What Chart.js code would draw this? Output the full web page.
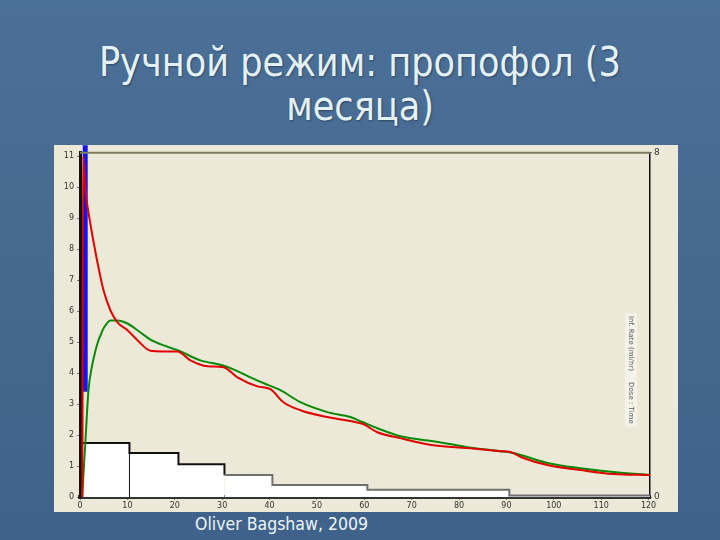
<!DOCTYPE html>
<html>
<head>
<meta charset="utf-8">
<script src="https://cdn.jsdelivr.net/npm/chart.js@4.4.1/dist/chart.umd.min.js"></script>
<style>
  html, body { margin:0; padding:0; }
  body { width:720px; height:540px; position:relative; overflow:hidden;
    background: linear-gradient(180deg, #4b7098 0%, #46698f 45%, #3f628a 100%); }
  .t { position:absolute; left:0; width:720px; text-align:center; white-space:nowrap;
       color:#e4f2f8; font-family:"DejaVu Sans", sans-serif; text-shadow:1px 1px 2px rgba(0,0,0,0.35); }
  .t span { display:inline-block; transform-origin:50% 50%; }
  #panel { position:absolute; left:54px; top:145px; width:624px; height:367px; background:#ece9d8; }
  #foot { position:absolute; left:195px; top:514px; color:#eef6fa; font-family:"DejaVu Sans", sans-serif;
          font-size:17px; white-space:nowrap; transform-origin:0 50%; }
</style>
</head>
<body>
<div class="t" id="t1" style="top:38px;font-size:40px;line-height:48px;"><span>Ручной режим: пропофол (3</span></div>
<div class="t" id="t2" style="top:82px;font-size:40px;line-height:48px;"><span>месяца)</span></div>
<div id="panel"><canvas id="c" width="624" height="367"></canvas></div>
<div id="foot">Oliver Bagshaw, 2009</div>
<script>
// ---- data (minutes, concentration) ----
const plasmaT = [0.5, 0.65, 1.16, 2.22, 2.85, 3.90, 4.96, 6.43, 7.91, 10.02, 12.13, 14.87, 17.5, 20.57, 23.31, 26.90, 30.27, 33.23, 37.45, 40.19, 42.93, 46.52, 52.22, 57.07, 59.81, 62.76, 67.62, 74.58, 81.75, 88.71, 90.82, 93.57, 98.63, 105.6, 112.6, 120.3];
const plasmaV = [0, 11.0, 9.89, 8.79, 8.24, 7.41, 6.67, 6.02, 5.64, 5.38, 5.06, 4.72, 4.70, 4.70, 4.41, 4.22, 4.19, 3.86, 3.57, 3.48, 3.06, 2.80, 2.58, 2.45, 2.35, 2.09, 1.90, 1.67, 1.58, 1.48, 1.45, 1.26, 1.03, 0.87, 0.74, 0.71];
const effectT = [0.45, 1.16, 1.79, 2.5, 3.27, 3.90, 4.32, 4.96, 6.43, 7.91, 10.02, 12.76, 14.87, 17.5, 20.57, 25.42, 30.06, 32.38, 35.97, 39.77, 42.30, 46.52, 52.22, 57.07, 59.60, 62.76, 67.62, 74.58, 81.75, 88.71, 91.46, 98.63, 105.6, 112.6, 120.3];
const effectV = [0, 1.84, 3.45, 4.2, 4.73, 5.06, 5.22, 5.44, 5.70, 5.70, 5.60, 5.31, 5.08, 4.90, 4.74, 4.41, 4.25, 4.12, 3.86, 3.61, 3.45, 3.06, 2.74, 2.58, 2.42, 2.22, 1.96, 1.80, 1.61, 1.48, 1.42, 1.10, 0.93, 0.81, 0.71];
const rateT = [0.6, 10.44, 20.78, 30.49, 40.61, 60.65, 90.61, 120.3];
const rateV = [1.74, 1.42, 1.06, 0.71, 0.39, 0.23, 0.05, 0.05];
const dividerT = [10.44, 10.44];
const dividerV = [0, 1.74];
const bolusT = [1.1, 1.1];
const bolusV = [3.4, 11.35];
const xTicks = [0, 10, 20, 30, 40, 50, 60, 70, 80, 90, 100, 110, 120];
const yTicks = [0, 1, 2, 3, 4, 5, 6, 7, 8, 9, 10, 11];
const y2Ticks = [0, 8];
const sideLabel = "Inf. Rate (ml/hr)     Dose : Time";

const pts = (xs, ys) => xs.map((x, i) => ({x, y: ys[i]}));

const frame = {
  id: 'frame',
  afterDatasetsDraw(chart) {
    const {ctx, chartArea: a} = chart;
    ctx.save();
    ctx.strokeStyle = '#7c7c64';
    ctx.lineWidth = 2;
    ctx.beginPath(); ctx.moveTo(a.left, a.top); ctx.lineTo(a.right, a.top); ctx.stroke();
    // rotated side label
    ctx.translate(a.right - 19, a.top + 217);
    ctx.rotate(Math.PI / 2);
    ctx.font = '7px "DejaVu Sans"';
    ctx.textAlign = 'center'; ctx.textBaseline = 'middle';
    const w = ctx.measureText(sideLabel).width;
    ctx.fillStyle = 'rgba(255,255,255,0.45)';
    ctx.fillRect(-w/2 - 3, -6, w + 6, 12);
    ctx.fillStyle = '#555';
    ctx.fillText(sideLabel, 0, 0);
    ctx.restore();
  }
};

new Chart(document.getElementById('c'), {
  type: 'line',
  data: {
    datasets: [
      { label: 'rate', data: pts(rateT, rateV), stepped: true, fill: 'origin',
        backgroundColor: '#ffffff', borderWidth: 2, pointRadius: 0, order: 6,
        segment: { borderColor: c => c.p0.parsed.x >= 30 ? '#6f6f6f' : '#111111' } },
      { label: 'divider', data: pts(dividerT, dividerV), borderColor: '#111', borderWidth: 1,
        pointRadius: 0, order: 5 },
      { label: 'bolus', data: pts(bolusT, bolusV), borderColor: '#1414f0', borderWidth: 5,
        borderCapStyle: 'butt', pointRadius: 0, order: 4, clip: false },
      { label: 'effect', data: pts(effectT, effectV), borderColor: '#078a07', borderWidth: 2,
        pointRadius: 0, cubicInterpolationMode: 'monotone', order: 3 },
      { label: 'plasma', data: pts(plasmaT, plasmaV), borderColor: '#e00000', borderWidth: 2,
        pointRadius: 0, cubicInterpolationMode: 'monotone', order: 2 }
    ]
  },
  options: {
    responsive: false, animation: false, devicePixelRatio: 1,
    layout: { padding: { top: 7, left: 0, right: 0, bottom: 0 } },
    plugins: { legend: { display: false }, tooltip: { enabled: false } },
    scales: {
      x: { type: 'linear', min: 0, max: 120.3,
        afterFit: s => { s.height = 15; },
        afterBuildTicks: s => { s.ticks = xTicks.map(v => ({value: v})); },
        ticks: { font: { size: 8, family: 'DejaVu Sans' }, color: '#333', padding: 1, maxRotation: 0 },
        grid: { drawOnChartArea: false, tickLength: 3, color: '#777' },
        border: { color: '#333', width: 4 } },
      y: { min: 0, max: 11.11, position: 'left',
        afterFit: s => { s.width = 26; },
        afterBuildTicks: s => { s.ticks = yTicks.map(v => ({value: v})); },
        ticks: { font: { size: 8, family: 'DejaVu Sans' }, color: '#333', padding: 3 },
        grid: { drawOnChartArea: false, tickLength: 3, color: '#777' },
        border: { color: '#111', width: 3 } },
      y2: { min: 0, max: 8, position: 'right',
        afterFit: s => { s.width = 28; },
        afterBuildTicks: s => { s.ticks = y2Ticks.map(v => ({value: v})); },
        ticks: { font: { size: 9, family: 'DejaVu Sans' }, color: '#333', padding: 2 },
        grid: { drawOnChartArea: false, tickLength: 2, color: '#777' },
        border: { color: '#111', width: 1.5 } }
    }
  },
  plugins: [frame]
});

// fit title/footer widths to the slide layout
const s1 = document.querySelector('#t1 span'), s2 = document.querySelector('#t2 span');
const k = 522 / s1.getBoundingClientRect().width;
s1.style.transform = s2.style.transform = 'scaleX(' + k + ')';
const f = document.getElementById('foot');
f.style.transform = 'scaleX(' + (173 / f.getBoundingClientRect().width) + ')';
</script>
</body>
</html>
